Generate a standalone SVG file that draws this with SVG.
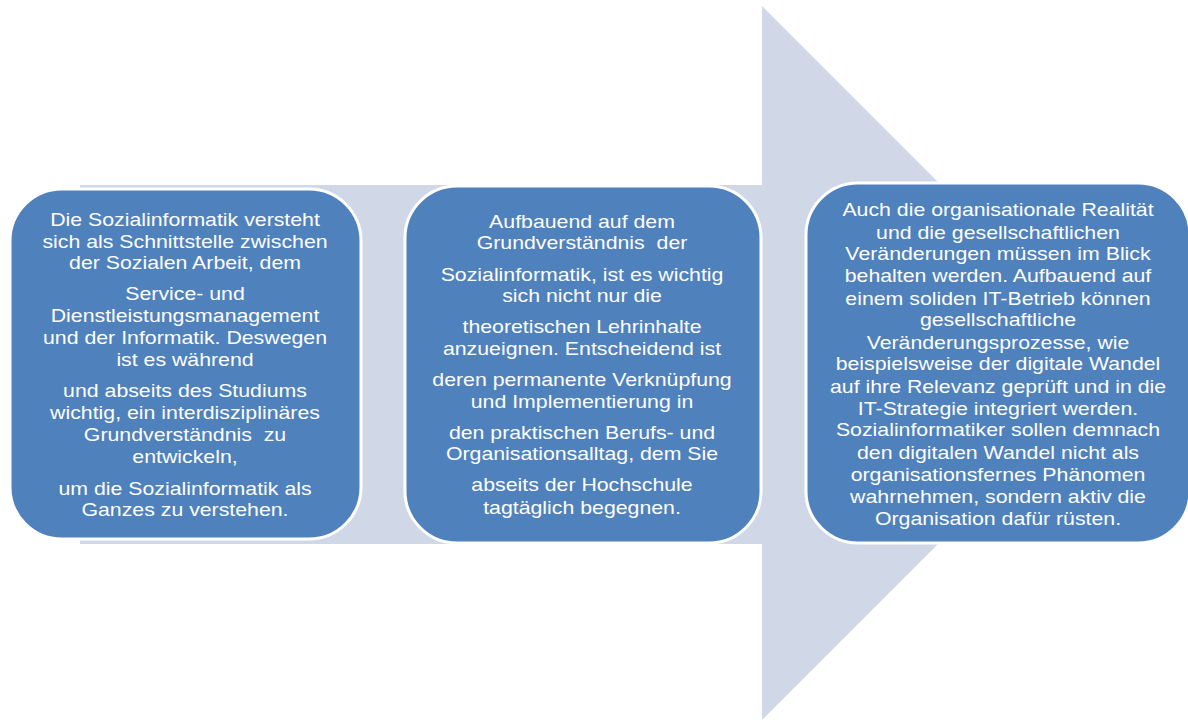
<svg xmlns="http://www.w3.org/2000/svg" width="1188" height="720" viewBox="0 0 1188 720">
<style>
.box{fill:#4F81BD;stroke:#FFFFFF;stroke-width:3}
.t{font-family:"Liberation Sans",Arial,sans-serif;font-size:18.6px;fill:#FFFFFF;text-anchor:middle}
</style>
<rect width="1188" height="720" fill="#FFFFFF"/>
<g id="connectors">
<polygon points="80,185 762,185 762,6 1119,363 762,720 762,544 80,544" fill="#D0D8E8"/>
</g>
<g id="node1">
<rect class="box" x="10" y="189" width="351" height="350" rx="52" ry="52"/>
<g transform="translate(185,0) scale(1.145,1)">
<text class="t" x="0" y="226">Die Sozialinformatik versteht</text>
<text class="t" x="0" y="247.7">sich als Schnittstelle zwischen</text>
<text class="t" x="0" y="269.5">der Sozialen Arbeit, dem</text>
<text class="t" x="0" y="300.5">Service- und</text>
<text class="t" x="0" y="322.2">Dienstleistungsmanagement</text>
<text class="t" x="0" y="344">und der Informatik. Deswegen</text>
<text class="t" x="0" y="365.8">ist es während</text>
<text class="t" x="0" y="397.5">und abseits des Studiums</text>
<text class="t" x="0" y="419.5">wichtig, ein interdisziplinäres</text>
<text class="t" x="0" y="441.3" xml:space="preserve">Grundverständnis  zu</text>
<text class="t" x="0" y="463">entwickeln,</text>
<text class="t" x="0" y="494.7">um die Sozialinformatik als</text>
<text class="t" x="0" y="516.5">Ganzes zu verstehen.</text>
</g>
</g>
<g id="node2">
<rect class="box" x="405" y="186" width="356" height="357" rx="52" ry="52"/>
<g transform="translate(582,0) scale(1.145,1)">
<text class="t" x="0" y="228">Aufbauend auf dem</text>
<text class="t" x="0" y="249" xml:space="preserve">Grundverständnis  der</text>
<text class="t" x="0" y="280.7">Sozialinformatik, ist es wichtig</text>
<text class="t" x="0" y="302.4">sich nicht nur die</text>
<text class="t" x="0" y="333.1">theoretischen Lehrinhalte</text>
<text class="t" x="0" y="355.3">anzueignen. Entscheidend ist</text>
<text class="t" x="0" y="386.4">deren permanente Verknüpfung</text>
<text class="t" x="0" y="408">und Implementierung in</text>
<text class="t" x="0" y="438.7">den praktischen Berufs- und</text>
<text class="t" x="0" y="460.4">Organisationsalltag, dem Sie</text>
<text class="t" x="0" y="491.4">abseits der Hochschule</text>
<text class="t" x="0" y="513.7">tagtäglich begegnen.</text>
</g>
</g>
<g id="node3">
<rect class="box" x="806" y="183" width="384" height="360" rx="52" ry="52"/>
<g transform="translate(998,0) scale(1.145,1)">
<text class="t" x="0" y="216.4">Auch die organisationale Realität</text>
<text class="t" x="0" y="238.6">und die gesellschaftlichen</text>
<text class="t" x="0" y="260.4">Veränderungen müssen im Blick</text>
<text class="t" x="0" y="282.4">behalten werden. Aufbauend auf</text>
<text class="t" x="0" y="304.6">einem soliden IT-Betrieb können</text>
<text class="t" x="0" y="326.4">gesellschaftliche</text>
<text class="t" x="0" y="348.6">Veränderungsprozesse, wie</text>
<text class="t" x="0" y="370.4">beispielsweise der digitale Wandel</text>
<text class="t" x="0" y="393">auf ihre Relevanz geprüft und in die</text>
<text class="t" x="0" y="414.7">IT-Strategie integriert werden.</text>
<text class="t" x="0" y="436.4">Sozialinformatiker sollen demnach</text>
<text class="t" x="0" y="458.6">den digitalen Wandel nicht als</text>
<text class="t" x="0" y="480.7">organisationsfernes Phänomen</text>
<text class="t" x="0" y="503">wahrnehmen, sondern aktiv die</text>
<text class="t" x="0" y="524.7">Organisation dafür rüsten.</text>
</g>
</g>
</svg>
